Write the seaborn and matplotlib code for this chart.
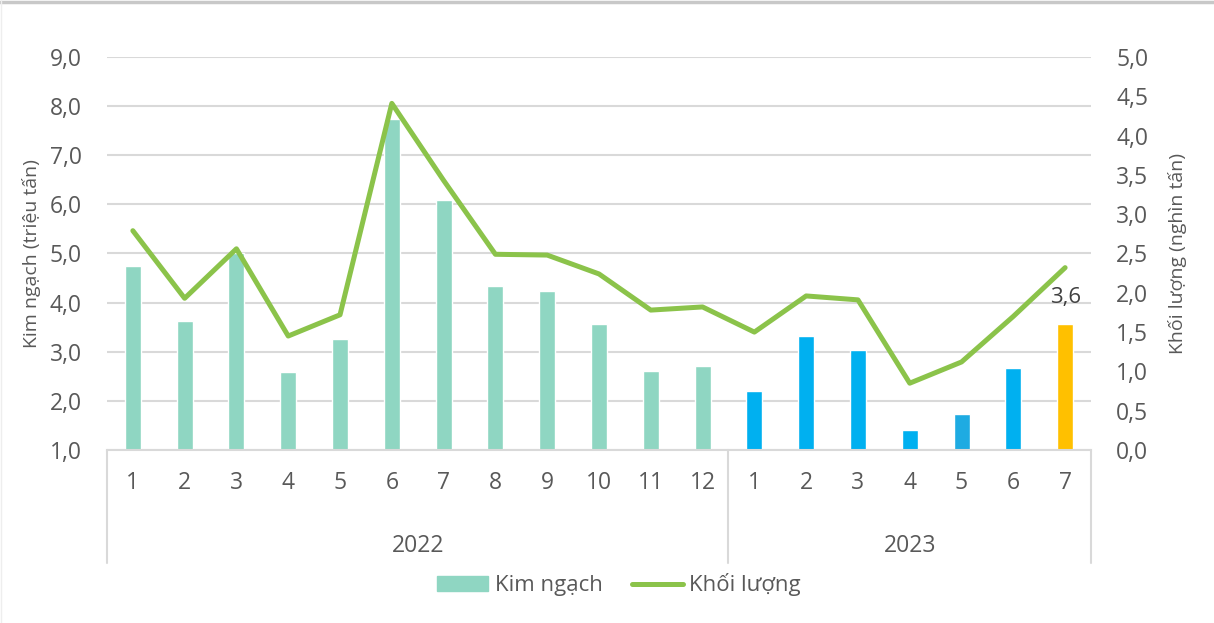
import pandas as pd
from matplotlib import pyplot as plt
from matplotlib.lines import Line2D
from matplotlib.patches import Patch
import seaborn as sns
import numpy as np

# dữ liệu
nam = ["2022"] * 12 + ["2023"] * 7
thang = [str(i) for i in range(1, 13)] + [str(i) for i in range(1, 8)]
kim_ngach = [4.75, 3.63, 5.0, 2.59, 3.25, 7.74, 6.09, 4.34, 4.24, 3.57, 2.61, 2.71,
             2.20, 3.32, 3.04, 1.41, 1.73, 2.67, 3.56]
khoi_luong = [2.79, 1.93, 2.56, 1.45, 1.72, 4.41, 3.43, 2.49, 2.48, 2.24, 1.78, 1.82,
              1.50, 1.96, 1.91, 0.85, 1.12, 1.70, 2.32]
mau_cot = ["#8FD6C2"] * 12 + ["#00B0F0"] * 4 + ["#1EABE2", "#00B0F0", "#FFC000"]

text_color = "#595959"
grid_color = "#D9D9D9"
line_color = "#8BC34A"

df = pd.DataFrame({"nam": nam, "thang": thang, "kim_ngach": kim_ngach, "khoi_luong": khoi_luong})
df["key"] = df["nam"] + "-" + df["thang"]
df["pos"] = np.arange(len(df))

sns.set_style("white")
plt.rcParams["font.family"] = ["Open Sans", "DejaVu Sans"]

fig = plt.figure(figsize=(12.14, 6.23), dpi=100)
ax = fig.add_axes([0.0881, 0.2777, 0.8106, 0.6308])

sns.barplot(data=df, x="key", y="kim_ngach", hue="key", palette=mau_cot, legend=False,
            width=0.31, ax=ax, saturation=1)
ax.set_ylim(1, 9)
ax.set_xlim(-0.5, len(df) - 0.5)
ax.set_yticks(np.arange(1, 9.1, 1))
ax.set_yticklabels([f"{v:.1f}".replace(".", ",") for v in np.arange(1, 9.1, 1)], fontsize=16.5, color=text_color)
ax.yaxis.grid(True, color=grid_color, linewidth=1.5)
ax.set_axisbelow(True)
ax.tick_params(axis="both", length=0)
ax.tick_params(axis="y", pad=18)
ax.set_xticks(df["pos"])
ax.set_xticklabels(df["thang"], fontsize=16.5, color=text_color)
ax.tick_params(axis="x", pad=15)
ax.set_xlabel("")
ax.set_ylabel("Kim ngạch (triệu tấn)", fontsize=14, color=text_color, labelpad=6)
for s in ["top", "left", "right"]:
    ax.spines[s].set_visible(False)
ax.spines["bottom"].set_color(grid_color)
ax.spines["bottom"].set_linewidth(1.5)

ax2 = ax.twinx()
sns.lineplot(x=df["pos"], y=df["khoi_luong"], color=line_color, linewidth=3.6, ax=ax2)
ax2.set_ylim(0, 5)
ax2.set_yticks(np.arange(0, 5.01, 0.5))
ax2.set_yticklabels([f"{v:.1f}".replace(".", ",") for v in np.arange(0, 5.01, 0.5)], fontsize=16.5, color=text_color)
ax2.tick_params(axis="y", length=0, pad=18)
ax2.set_ylabel("Khối lượng (nghìn tấn)", fontsize=14, color=text_color, labelpad=14)
ax2.set_xlabel("")
for s in ax2.spines.values():
    s.set_visible(False)

# nhãn giá trị cột cuối
last = len(df) - 1
ax.annotate(f"{kim_ngach[last]:.1f}".replace(".", ","), xy=(last, kim_ngach[last]),
            xytext=(0, 12), textcoords="offset points", ha="center", va="bottom",
            fontsize=16, color="#404040")

# đường chia nhóm năm và nhãn năm
trans = ax.get_xaxis_transform()
for xv in [-0.5, 11.5, len(df) - 0.5]:
    ax.plot([xv, xv], [0, -0.2875], transform=trans, color=grid_color, linewidth=1.5, clip_on=False)
for n in df["nam"].unique():
    p = df.loc[df["nam"] == n, "pos"]
    ax.text((p.min() + p.max()) / 2, -0.245, n, transform=trans, ha="center", va="center",
            fontsize=16.5, color=text_color)

handles = [Patch(color="#8FD6C2", label="Kim ngạch"),
           Line2D([0], [0], color=line_color, linewidth=3.6, label="Khối lượng")]
leg = fig.legend(handles=handles, loc="center", bbox_to_anchor=(0.51, 0.061), ncol=2,
                 frameon=False, fontsize=16, handlelength=2.3, handletextpad=0.3, columnspacing=1.3)
for t in leg.get_texts():
    t.set_color(text_color)

# viền khung hình
fig.add_artist(Line2D([0, 1], [0.997, 0.997], transform=fig.transFigure, color="#C8C8C8", linewidth=2.5))
fig.add_artist(Line2D([0.001, 0.001], [0, 1], transform=fig.transFigure, color="#EEEEEE", linewidth=1))

fig.savefig("out.png", dpi=100)
